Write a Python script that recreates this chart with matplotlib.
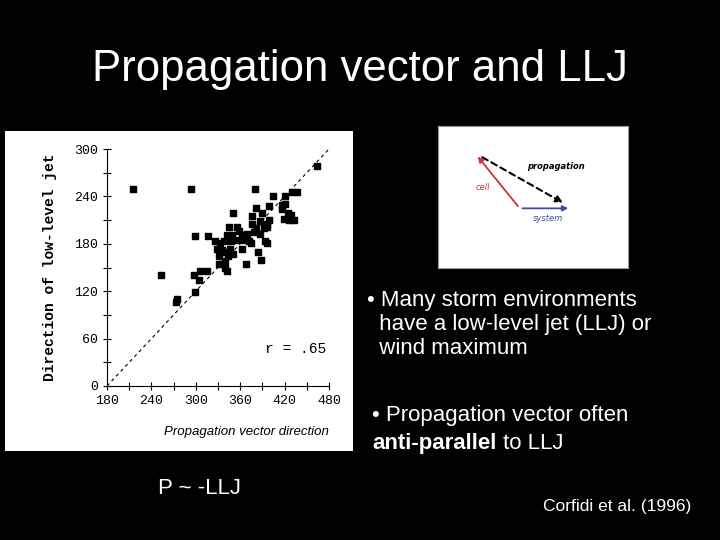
import matplotlib
matplotlib.use("Agg")
import matplotlib.pyplot as plt

prop_dir = [464,215,293,380,404,421,430,437,421,416,399,382,417,424,390,350,376,429,
            419,433,426,399,387,376,396,345,355,358,382,392,396,369,378,387,342,349,362,
            299,316,338,347,356,365,372,394,326,333,396,374,346,363,329,336,350,340,384,
            331,344,332,340,368,388,340,342,306,315,298,304,253,299,275,273]
llj_dir = [279,250,250,250,241,240,245,245,231,229,228,225,224,219,219,219,215,216,
           212,210,210,210,209,205,205,201,201,196,200,200,201,193,195,193,191,191,191,
           190,190,184,184,185,185,184,184,183,181,181,181,174,174,174,172,167,169,169,
           165,164,155,158,155,160,149,145,145,145,140,134,140,119,110,106]
x_ticks = [180,240,300,360,420,480]
y_ticks = [0,60,120,180,240,300]

W, H = 720, 540
fig = plt.figure(figsize=(7.2, 5.4), dpi=100, facecolor="black")

def ax_px(x0, y0, x1, y1):
    return fig.add_axes([x0/W, 1-y1/H, (x1-x0)/W, (y1-y0)/H])

fig.text(92/W, 1-70/H, "Propagation vector and LLJ", color="white", fontsize=31.5,
         ha="left", va="center", family="Liberation Sans")

panel = ax_px(5, 131, 353, 451)
panel.set_facecolor("white"); panel.set_xticks([]); panel.set_yticks([])
for s in panel.spines.values(): s.set_visible(False)
panel.text(0.695, 0.06, "Propagation vector direction", transform=panel.transAxes,
           ha="center", va="center", fontsize=9.5, style="italic", family="Liberation Sans")

ax = ax_px(107, 149, 329, 386)
ax.set_facecolor("white")
ax.plot([180, 480], [0, 300], ls=(0, (3, 3)), color="black", lw=0.8)
ax.scatter(prop_dir, llj_dir, marker="s", s=22, color="black")
ax.set_xlim(180, 480); ax.set_ylim(0, 300)
ax.set_xticks(x_ticks); ax.set_yticks(y_ticks)
ax.set_xticks(range(180, 481, 30), minor=True); ax.set_yticks(range(0, 301, 30), minor=True)
ax.tick_params(which="both", direction="inout", length=6, width=0.8, labelsize=9.5)
for lab in ax.get_xticklabels() + ax.get_yticklabels():
    lab.set_family("Liberation Mono")
ax.spines["top"].set_visible(False); ax.spines["right"].set_visible(False)
ax.set_ylabel("Direction of low-level jet", family="Liberation Mono", fontsize=10.5,
              fontweight="bold", labelpad=12)
ax.text(0.71, 0.14, "r = .65", transform=ax.transAxes, family="Liberation Mono", fontsize=10.5)

ins = ax_px(438, 126, 628, 268)
ins.set_facecolor("white"); ins.set_xticks([]); ins.set_yticks([])
for s in ins.spines.values(): s.set_color("#999999")
ins.set_xlim(0, 1); ins.set_ylim(0, 1)
ins.annotate("", xy=(0.2, 0.8), xytext=(0.43, 0.42),
             arrowprops=dict(arrowstyle="-|>", color="#cc3333", lw=1.3, mutation_scale=8))
ins.annotate("", xy=(0.7, 0.42), xytext=(0.43, 0.42),
             arrowprops=dict(arrowstyle="-|>", color="#3a4f9a", lw=1.3, mutation_scale=8))
ins.annotate("", xy=(0.67, 0.45), xytext=(0.22, 0.79),
             arrowprops=dict(arrowstyle="-|>", color="black", lw=1.5, ls=(0, (3, 2)), mutation_scale=10))
ins.text(0.47, 0.7, "propagation", fontsize=6, style="italic", fontweight="bold")
ins.text(0.2, 0.55, "cell", fontsize=6, style="italic", color="#cc3333")
ins.text(0.5, 0.33, "system", fontsize=6, style="italic", color="#3a4f9a")

tf = dict(color="white", fontsize=16, family="Liberation Sans", va="top")
fig.text(367/W, 1-290/H, "• Many storm environments\n  have a low-level jet (LLJ) or\n  wind maximum",
         linespacing=1.2, **tf)
fig.text(372/W, 1-405/H, "• Propagation vector often", **tf)
bold = fig.text(372/W, 1-433/H, "anti-parallel", fontweight="bold", **tf)
fig.canvas.draw()
bb = bold.get_window_extent()
fig.text((bb.x1 + 7)/W, 1-433/H, "to LLJ", **tf)
fig.text(200/W, 1-488/H, "P ~ -LLJ", color="white", fontsize=16, family="Liberation Sans",
         ha="center", va="center")
fig.text(617/W, 1-507/H, "Corfidi et al. (1996)", color="white", fontsize=12.5,
         family="Liberation Sans", ha="center", va="center")

fig.savefig("out.png", dpi=100, facecolor="black")
